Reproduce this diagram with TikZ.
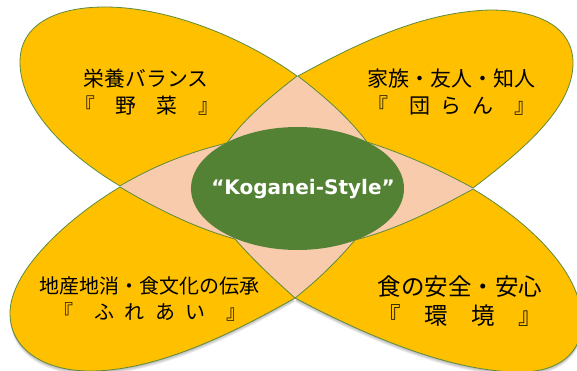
\documentclass[tikz,border=0pt]{standalone}
\usepackage{fontspec}
\setmainfont{Noto Sans CJK JP}
\newfontfamily\latinbold{DejaVu Sans Bold}
\usetikzlibrary{shapes.geometric}
\definecolor{petalfill}{HTML}{FFC000}
\definecolor{petaledge}{HTML}{5E8A3C}
\definecolor{corefill}{HTML}{548235}
\definecolor{overlapfill}{HTML}{F8CBAD}
\def\petalTL{(297,76) .. controls (240,35) and (165,7) .. (105,7) .. controls (55,7) and (20,25) .. (20,62) .. controls (20,105) and (60,150) .. (120,186) .. controls (155,165) and (190,152) .. (227,143) .. controls (245,118) and (270,97) .. (297,76) -- cycle}
\def\petalTR{(298,76) .. controls (355,45) and (420,12) .. (490,10) .. controls (540,10) and (573,28) .. (573,63) .. controls (573,105) and (530,145) .. (473,188) .. controls (440,170) and (405,154) .. (367,142) .. controls (348,117) and (325,97) .. (298,76) -- cycle}
\def\petalBR{(473,189) .. controls (525,220) and (582,270) .. (582,322) .. controls (582,352) and (560,372) .. (520,372) .. controls (450,372) and (365,335) .. (295,298) .. controls (318,280) and (338,260) .. (355,240) .. controls (395,230) and (435,210) .. (473,189) -- cycle}
\def\petalBL{(120,187) .. controls (65,220) and (10,272) .. (10,313) .. controls (10,350) and (45,371) .. (90,371) .. controls (155,371) and (230,335) .. (295,298) .. controls (275,280) and (255,262) .. (235,239) .. controls (195,228) and (155,208) .. (120,187) -- cycle}
\tikzset{
  petal/.style={fill=petalfill,draw=petaledge,line width=.8pt,line join=miter},
  petaltext/.style={font=\fontsize{#1}{#1}\selectfont,text=black,inner sep=0pt,anchor=center},
  haze/.style={fill=black,draw=none,fill opacity=.07}
}
\newcommand{\hs}[1]{\hspace*{#1pt}}
\begin{document}
\begin{tikzpicture}[x=1pt,y=-1pt]
\useasboundingbox (0,0) rectangle (577,371);
\clip (0,0) rectangle (577,371);
\fill[white] (0,0) rectangle (577,371);
% soft shadow below the lower petals
\foreach \d in {1,2,3,4}{
  \fill[haze,shift={(0,\d)}] \petalBL;
  \fill[haze,shift={(0,\d)}] \petalBR;
}
% overlap field
\fill[overlapfill] (297,76) -- (120,187) -- (295,298) -- (473,188) -- cycle;
\draw[petal] \petalBL;
\draw[petal] \petalBR;
\draw[petal] \petalTL;
\draw[petal] \petalTR;
\node[ellipse,fill=corefill,draw=none,minimum width=213pt,minimum height=123pt,inner sep=0pt] (core) at (297.5,188.5) {};
\node[text=white,inner sep=0pt,font=\latinbold\fontsize{20}{22}\selectfont] (corelabel) at (303,189.5) {“Koganei-Style”};
\node[petaltext=20.8] (tl1) at (146,79) {栄養バランス};
\node[petaltext=20.8] (tl2) at (147,106) {『\hs{20}野\hs{21}菜\hs{21}』};
\node[petaltext=21] (tr1) at (451,79) {家族・友人・知人};
\node[petaltext=21] (tr2) at (451,106) {『\hs{21}団\hs{10.5}ら\hs{10.5}ん\hs{21}』};
\node[petaltext=20] (bl1) at (149,286) {地産地消・食文化の伝承};
\node[petaltext=20] (bl2) at (150,312) {『\hs{21}ふ\hs{10.5}れ\hs{10.5}あ\hs{10.5}い\hs{21}』};
\node[petaltext=23.5] (br1) at (460,287) {食の安全・安心};
\node[petaltext=23.5] (br2) at (460,316) {『\hs{23.5}環\hs{23.5}境\hs{23.5}』};
\end{tikzpicture}
\end{document}
